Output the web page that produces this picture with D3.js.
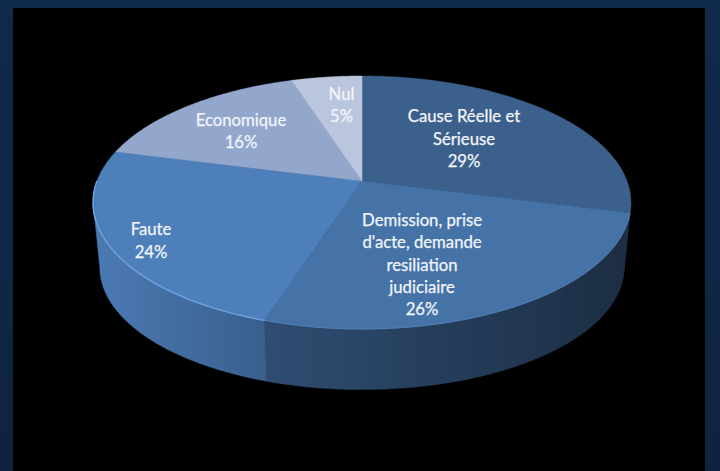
<!DOCTYPE html>
<html>
<head>
<meta charset="utf-8">
<script src="https://cdn.jsdelivr.net/npm/d3@7"></script>
<style>
  html, body { margin: 0; padding: 0; background: #0f2745; overflow: hidden; }
  svg { display: block; }
  text { font-family: Lato, "Open Sans", sans-serif; fill: #f2f5fa; stroke: #f2f5fa; stroke-width: 0.25; }
</style>
</head>
<body>
<svg id="chart" width="720" height="471"></svg>
<script>
const categories = ["Cause Réelle et Sérieuse", "Demission, prise d'acte, demande resiliation judiciaire", "Faute", "Economique", "Nul"];
const shares = [29, 26, 24, 16, 5];
const labelLines = [
  ["Cause Réelle et", "Sérieuse"],
  ["Demission, prise", "d'acte, demande", "resiliation", "judiciaire"],
  ["Faute"],
  ["Economique"],
  ["Nul"]
];
const topColors = ["#3b608c", "#4573a8", "#4d7fba", "#93a7cd", "#bac6de"];
const wallNearColors = ["#1c2c42", "#2f4d72", "#3a5f8d"];
const wallFarColors = ["#1c2c42", "#1c2d43", "#4b7ab3"];
const labelCentres = [[464, 138.5], [422, 264.5], [151, 240.5], [241, 131], [341.5, 105]];

const svg = d3.select("#chart");
const defs = svg.append("defs");

// Page frame and black plot area
const frame = defs.append("linearGradient").attr("id", "frame").attr("x1", 0).attr("x2", 0).attr("y1", 0).attr("y2", 1);
frame.append("stop").attr("offset", 0).attr("stop-color", "#102a4c");
frame.append("stop").attr("offset", 1).attr("stop-color", "#0e2340");
svg.append("rect").attr("width", 720).attr("height", 471).attr("fill", "url(#frame)");
svg.append("rect").attr("x", 13).attr("y", 8).attr("width", 692).attr("height", 463).attr("fill", "#000");

// Perspective projection of the pie's disc: the apex sits above the ellipse centre
const cx = 362, apexY = 181, spreadX = 265, spreadY = 92.1, persp = -0.17;
function project(u, v) {
  const w = 1 + persp * v;
  return [cx + spreadX * u / w, (spreadY * v + apexY) / w];
}
const rim = a => project(Math.sin(a), -Math.cos(a));
// The base rim is the top rim pulled in slightly and lowered
const baseRim = a => {
  const [x, y] = rim(a);
  return [cx + (x - cx) * 0.975, 202.5 + (y - 202.5) * 0.965 + 65];
};

const pieLayout = d3.pie().sort(null).value(d => d)(shares);
const line = d3.line();
const arcPoints = (f, a0, a1) => d3.range(0, 121).map(i => f(a0 + (a1 - a0) * i / 120));

// Side wall, running between the rim's two horizontal extremes
const wallFrom = Math.PI * 0.555, wallTo = Math.PI * 1.445;
const wallGroup = svg.append("g");
pieLayout.forEach((p, i) => {
  const a0 = Math.max(p.startAngle, wallFrom), a1 = Math.min(p.endAngle, wallTo);
  if (a1 <= a0) return;
  const id = "wall" + i;
  const g = defs.append("linearGradient").attr("id", id).attr("x1", 1).attr("x2", 0).attr("y1", 0).attr("y2", 0);
  g.append("stop").attr("offset", 0).attr("stop-color", wallNearColors[i] && i === 2 ? wallNearColors[i] : wallFarColors[i]);
  g.append("stop").attr("offset", 1).attr("stop-color", i === 2 ? wallFarColors[i] : wallNearColors[i]);
  const pts = arcPoints(rim, a0, a1).concat(arcPoints(baseRim, a1, a0));
  wallGroup.append("path").attr("d", line(pts) + "Z").attr("fill", `url(#${id})`)
    .attr("stroke", "url(#" + id + ")").attr("stroke-width", 0.4);
});

// Top face slices
const faceGroup = svg.append("g");
pieLayout.forEach((p, i) => {
  const pts = [project(0, 0)].concat(arcPoints(rim, p.startAngle, p.endAngle));
  faceGroup.append("path").attr("d", line(pts) + "Z").attr("fill", topColors[i])
    .attr("stroke", topColors[i]).attr("stroke-width", 0.5);
});

// Bevel highlights along the front edge of the disc
const bevel = svg.append("g").attr("fill", "none");
bevel.append("path")
  .attr("d", line(arcPoints(rim, pieLayout[1].startAngle, pieLayout[1].endAngle)))
  .attr("stroke", "#5d8bc4").attr("stroke-width", 1).attr("stroke-opacity", 0.7);
bevel.append("path")
  .attr("d", line(arcPoints(rim, pieLayout[2].startAngle, Math.PI * 1.5)))
  .attr("stroke", "#6ea0de").attr("stroke-width", 1.5);

// Data labels: category lines followed by the share
const labelHeight = 22.3;
const labels = svg.append("g").attr("text-anchor", "middle").attr("font-size", 16.7);
pieLayout.forEach((p, i) => {
  const lines = labelLines[i].concat(shares[i] + "%");
  const [x, y] = labelCentres[i];
  const t = labels.append("text").attr("x", x).attr("y", y - (lines.length - 1) * labelHeight / 2 + 6);
  lines.forEach((s, k) => t.append("tspan").attr("x", x).attr("dy", k ? labelHeight : 0).text(s));
});
</script>
</body>
</html>
